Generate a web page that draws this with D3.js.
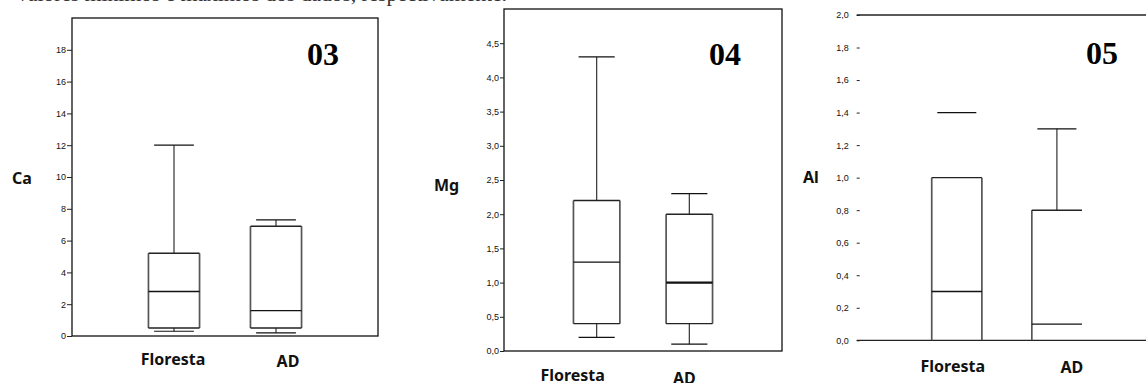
<!DOCTYPE html>
<html>
<head>
<meta charset="utf-8">
<script src="https://cdn.jsdelivr.net/npm/d3@7"></script>
<style>
  body { margin: 0; background: #fff; }
  svg { display: block; }
</style>
</head>
<body>
<div id="chart"></div>
<script>
// categories shared by the three box plots
var categories = ["Floresta", "AD"];

// 03 - Ca
var caMin    = [0.3, 0.2];
var caQ1     = [0.5, 0.5];
var caMedian = [2.8, 1.6];
var caQ3     = [5.2, 6.9];
var caMax    = [12, 7.3];
var caTicks  = [0, 2, 4, 6, 8, 10, 12, 14, 16, 18];

// 04 - Mg
var mgMin    = [0.2, 0.1];
var mgQ1     = [0.4, 0.4];
var mgMedian = [1.3, 1.0];
var mgQ3     = [2.2, 2.0];
var mgMax    = [4.3, 2.3];
var mgTicks  = [0, 0.5, 1, 1.5, 2, 2.5, 3, 3.5, 4, 4.5];

// 05 - Al
var alMin    = [0, 0];
var alQ1     = [0, 0];
var alMedian = [0.3, 0.1];
var alQ3     = [1.0, 0.8];
var alMax    = [1.4, 1.3];
var alTicks  = [0, 0.2, 0.4, 0.6, 0.8, 1.0, 1.2, 1.4, 1.6, 1.8, 2.0];

var svg = d3.select("#chart")
  .append("svg")
    .attr("width", 1146)
    .attr("height", 383);

// cut off line of the text above the figure (only its lower edge shows)
svg.append("text")
  .attr("x", 17)
  .attr("y", 0.8)
  .attr("textLength", 490)
  .attr("fill", "#333")
  .style("font-family", "'Liberation Serif', serif")
  .style("font-size", "22px")
  .text("valores mínimos e máximos dos dados, respectivamente.");

var comma = function(d) { return d3.format(".1f")(d).replace(".", ","); };

var drawPanel = function(p) {
  var width = p.right - p.left,
      height = p.bottom - p.top;

  var g = svg.append("g")
    .attr("transform", "translate(" + p.left + "," + p.top + ")");

  var x = d3.scalePoint()
    .domain(categories)
    .range([0, width])
    .padding(1);

  var y = d3.scaleLinear()
    .domain(p.domain)
    .range([height, 0]);

  // frame
  if (p.frame) {
    g.append("rect")
      .attr("width", width)
      .attr("height", height)
      .attr("fill", "none")
      .attr("stroke", "#111")
      .attr("stroke-width", 1.3);
  } else {
    g.append("line").attr("x1", 0).attr("x2", width)
      .attr("y1", 0).attr("y2", 0)
      .attr("stroke", "#222").attr("stroke-width", 1.3);
    g.append("line").attr("x1", 0).attr("x2", width)
      .attr("y1", height).attr("y2", height)
      .attr("stroke", "#222").attr("stroke-width", 1.3);
  }

  // y axis
  var axis = g.append("g")
    .call(d3.axisLeft(y)
      .tickValues(p.ticks)
      .tickFormat(p.format)
      .tickSizeInner(p.tickSize)
      .tickSizeOuter(0)
      .tickPadding(p.tickPad));
  axis.select(".domain").remove();
  axis.selectAll(".tick line").attr("stroke", "#222");
  axis.selectAll("text")
    .attr("fill", "#111")
    .style("font-family", "'Liberation Sans', Arial, sans-serif")
    .style("font-size", p.tickFont);

  var bw = width * 0.167,
      cw = width * 0.065;

  var data = categories.map(function(c, i) {
    return {cat: c, min: p.min[i], q1: p.q1[i], median: p.median[i], q3: p.q3[i], max: p.max[i], i: i};
  });

  var box = g.selectAll(".box")
    .data(data)
    .enter()
    .append("g");

  // upper whisker
  box.filter(function(d) { return p.stem[d.i]; })
    .append("line")
      .attr("x1", function(d) { return x(d.cat); })
      .attr("x2", function(d) { return x(d.cat); })
      .attr("y1", function(d) { return y(d.q3); })
      .attr("y2", function(d) { return y(d.max); })
      .attr("stroke", "#333").attr("stroke-width", 1.2);
  // lower whisker
  box.filter(function(d) { return d.min < d.q1; })
    .append("line")
      .attr("x1", function(d) { return x(d.cat); })
      .attr("x2", function(d) { return x(d.cat); })
      .attr("y1", function(d) { return y(d.q1); })
      .attr("y2", function(d) { return y(d.min); })
      .attr("stroke", "#333").attr("stroke-width", 1.2);
  // caps
  box.append("line")
    .attr("x1", function(d) { return x(d.cat) - cw; })
    .attr("x2", function(d) { return x(d.cat) + cw; })
    .attr("y1", function(d) { return y(d.max); })
    .attr("y2", function(d) { return y(d.max); })
    .attr("stroke", "#111").attr("stroke-width", 1.2);
  box.filter(function(d) { return d.min < d.q1; })
    .append("line")
      .attr("x1", function(d) { return x(d.cat) - cw; })
      .attr("x2", function(d) { return x(d.cat) + cw; })
      .attr("y1", function(d) { return y(d.min); })
      .attr("y2", function(d) { return y(d.min); })
      .attr("stroke", "#111").attr("stroke-width", 1.2);

  // box sides
  box.append("line")
    .attr("x1", function(d) { return x(d.cat) - bw / 2; })
    .attr("x2", function(d) { return x(d.cat) - bw / 2; })
    .attr("y1", function(d) { return y(d.q1); })
    .attr("y2", function(d) { return y(d.q3); })
    .attr("stroke", "#555").attr("stroke-width", 1.7);
  box.filter(function(d) { return p.rightSide[d.i]; })
    .append("line")
      .attr("x1", function(d) { return x(d.cat) + bw / 2; })
      .attr("x2", function(d) { return x(d.cat) + bw / 2; })
      .attr("y1", function(d) { return y(d.q1); })
      .attr("y2", function(d) { return y(d.q3); })
      .attr("stroke", "#555").attr("stroke-width", 1.7);
  // box top and bottom
  ["q1", "q3"].forEach(function(k) {
    box.filter(function(d) { return d[k] > p.domain[0]; })
      .append("line")
        .attr("x1", function(d) { return x(d.cat) - bw / 2; })
        .attr("x2", function(d) { return x(d.cat) + bw / 2; })
        .attr("y1", function(d) { return y(d[k]); })
        .attr("y2", function(d) { return y(d[k]); })
        .attr("stroke", "#222").attr("stroke-width", 1.4);
  });
  // median
  box.append("line")
    .attr("x1", function(d) { return x(d.cat) - bw / 2; })
    .attr("x2", function(d) { return x(d.cat) + bw / 2; })
    .attr("y1", function(d) { return y(d.median); })
    .attr("y2", function(d) { return y(d.median); })
    .attr("stroke", "#111")
    .attr("stroke-width", function(d) { return p.medianWidth[d.i]; });

  // category labels
  box.append("text")
    .attr("x", function(d) { return x(d.cat) + p.labelDx[d.i]; })
    .attr("y", function(d) { return height + p.labelDy[d.i]; })
    .attr("text-anchor", "middle")
    .style("font-family", "'Noto Sans', sans-serif")
    .style("font-weight", "bold")
    .style("font-size", "16px")
    .attr("fill", "#111")
    .text(function(d) { return d.cat; });

  // y title
  svg.append("text")
    .attr("x", p.titleX)
    .attr("y", p.titleY)
    .style("font-family", "'Noto Sans', sans-serif")
    .style("font-weight", "bold")
    .style("font-size", "16px")
    .attr("fill", "#111")
    .text(p.title);

  // panel number
  svg.append("text")
    .attr("x", p.numX)
    .attr("y", p.numY)
    .attr("text-anchor", "middle")
    .style("font-family", "'Liberation Serif', serif")
    .style("font-weight", "bold")
    .style("font-size", "32px")
    .text(p.num);
};

drawPanel({
  left: 72, top: 18, right: 378, bottom: 336,
  domain: [0, 20], ticks: caTicks, format: d3.format("d"),
  tickSize: 5, tickPad: 1, tickFont: "9px", frame: true,
  min: caMin, q1: caQ1, median: caMedian, q3: caQ3, max: caMax,
  stem: [true, true], rightSide: [true, true], medianWidth: [1.3, 1.3],
  labelDx: [-1, 12], labelDy: [29, 31],
  title: "Ca", titleX: 12, titleY: 184, num: "03", numX: 323, numY: 65
});

drawPanel({
  left: 504, top: 9, right: 782, bottom: 351,
  domain: [0, 5], ticks: mgTicks, format: comma,
  tickSize: 4, tickPad: 1, tickFont: "9px", frame: true,
  min: mgMin, q1: mgQ1, median: mgMedian, q3: mgQ3, max: mgMax,
  stem: [true, true], rightSide: [true, true], medianWidth: [1.3, 2.4],
  labelDx: [-24, -5], labelDy: [30, 33],
  title: "Mg", titleX: 434, titleY: 191, num: "04", numX: 725, numY: 65
});

drawPanel({
  left: 856.7, top: 15, right: 1157, bottom: 340.3,
  domain: [0, 2], ticks: alTicks, format: comma,
  tickSize: -3, tickPad: 8, tickFont: "9px", frame: false,
  min: alMin, q1: alQ1, median: alMedian, q3: alQ3, max: alMax,
  stem: [false, true], rightSide: [true, false], medianWidth: [1.3, 1.3],
  labelDx: [-4, 15], labelDy: [32, 33],
  title: "Al", titleX: 803, titleY: 183, num: "05", numX: 1102, numY: 64
});
</script>
</body>
</html>
